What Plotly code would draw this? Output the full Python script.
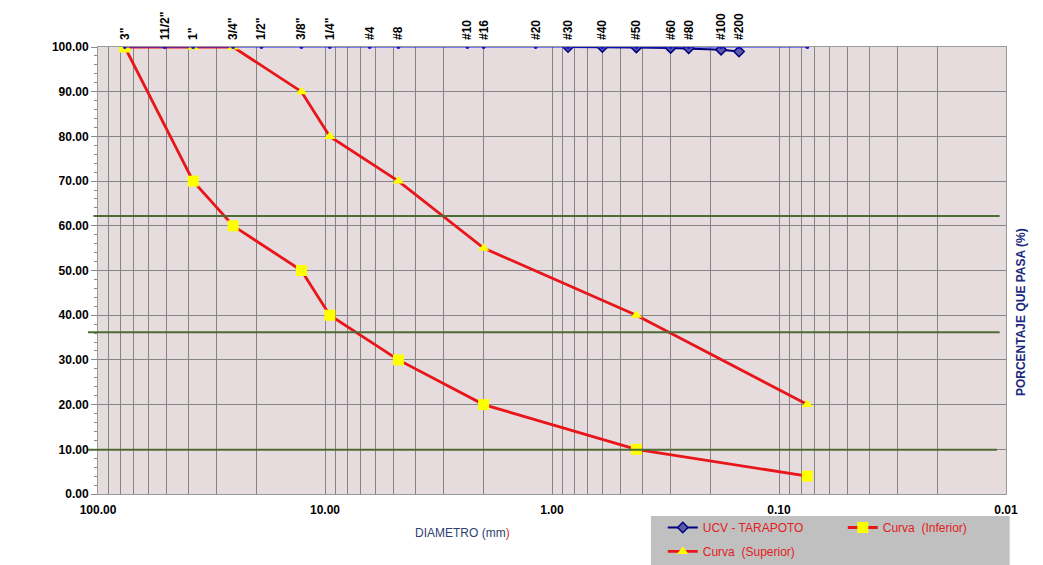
import plotly.graph_objects as go

# ---- data ----
sieve_sizes = [76.2, 50.8, 38.1, 25.4, 19.05, 12.7, 9.525, 6.35, 4.75, 2.36, 2.0,
               1.18, 0.85, 0.6, 0.425, 0.3, 0.25, 0.18, 0.15, 0.075]
sieve_pass = [100] * 20
top_labels = ['3"', '11/2"', '1"', '3/4"', '1/2"', '3/8"', '1/4"', '#4', '#8', '#10',
              '#16', '#20', '#30', '#40', '#50', '#60', '#80', '#100', '#200']

ucv_sizes = [0.85, 0.6, 0.425, 0.3, 0.25, 0.18, 0.15]
ucv_pass = [100, 100, 99.9, 99.8, 99.7, 99.4, 99.0]

inf_sizes = [76.2, 38.1, 25.4, 12.7, 9.525, 4.75, 2.0, 0.425, 0.075]
inf_pass = [100, 70, 60, 50, 40, 30, 20, 10, 4]

sup_sizes = [76.2, 38.1, 25.4, 12.7, 9.525, 4.75, 2.0, 0.425, 0.075]
sup_pass = [100, 100, 100, 90, 80, 70, 55, 40, 20]

green_levels = [62.2, 36.2, 9.9]
green_x0 = [-0.005, -0.011, -0.011]
green_x1 = [0.993, 0.993, 0.99]

x_major = [100, 10, 1, 0.1, 0.01]
x_major_text = ['100.00', '10.00', '1.00', '0.10', '0.01']

FONT = "Liberation Sans, Arial, sans-serif"
RED = "#e8161b"
YEL = "#ffff00"
NAVY = "#000080"

# gridline tick values for log axis (1..9 per decade)
grid_vals = []
grid_text = []
for d in [0.01, 0.1, 1, 10]:
    for k in range(1, 10):
        v = round(d * k, 6)
        grid_vals.append(v)
        grid_text.append(x_major_text[x_major.index(v)] if v in x_major else "")
grid_vals.append(100)
grid_text.append('100.00')

fig = go.Figure()

fig.add_trace(go.Scatter(
    x=sieve_sizes, y=sieve_pass, xaxis="x2", mode="lines+markers",
    line=dict(color="#1a1aff", width=1),
    marker=dict(symbol="circle", size=4, color="#1010d0"),
    showlegend=False, hoverinfo="skip"))

fig.add_trace(go.Scatter(
    x=ucv_sizes, y=ucv_pass, mode="lines+markers", name="UCV - TARAPOTO",
    line=dict(color=NAVY, width=2), legend="legend",
    marker=dict(symbol="diamond", size=8, color="#5a5aa8",
                line=dict(color=NAVY, width=1.5))))

fig.add_trace(go.Scatter(
    x=inf_sizes, y=inf_pass, mode="lines+markers", name="Curva  (Inferior)",
    line=dict(color=RED, width=2.8), legend="legend",
    marker=dict(symbol="square", size=11, color=YEL)))

fig.add_trace(go.Scatter(
    x=sup_sizes, y=sup_pass, mode="lines+markers", name="Curva  (Superior)",
    line=dict(color=RED, width=2.8), legend="legend2",
    marker=dict(symbol="triangle-up", size=10, color=YEL)))

for lv, a, b in zip(green_levels, green_x0, green_x1):
    fig.add_shape(type="line", xref="paper", yref="y", x0=a, x1=b, y0=lv, y1=lv,
                  line=dict(color="#4e6b35", width=2), layer="above")

# grey legend box
fig.add_shape(type="rect", xref="paper", yref="paper", x0=0.609, x1=1.004,
              y0=-0.17, y1=-0.049, fillcolor="#c0c0c0", line=dict(width=0), layer="above")

legend_font = dict(family=FONT, size=12, color="#e02020")

fig.update_layout(
    width=1035, height=557,
    margin=dict(l=90, r=37, t=39, b=71, autoexpand=False),
    paper_bgcolor="white",
    plot_bgcolor="#e6dcdd",
    font=dict(family=FONT, color="black"),
    xaxis=dict(
        type="log", range=[2, -2],
        tickvals=grid_vals, ticktext=grid_text,
        tickfont=dict(size=12, weight="bold", color="black"),
        ticklabelstandoff=5,
        showgrid=True, gridcolor="#858585", gridwidth=1,
        ticks="", showline=True, linecolor="#9a9a9a", mirror=True,
        zeroline=False),
    xaxis2=dict(
        type="log", range=[2, -2], overlaying="x", side="top",
        tickvals=sieve_sizes[:19], ticktext=top_labels, tickangle=-90,
        tickfont=dict(size=12, weight="bold", color="black"),
        ticklabelstandoff=6,
        showgrid=False, ticks="", showline=False, zeroline=False),
    yaxis=dict(
        range=[0, 100], dtick=10, tickformat=".2f",
        tickfont=dict(size=12, weight="bold", color="black"),
        showgrid=True, gridcolor="#858585", gridwidth=1,
        ticks="outside", ticklen=6, tickcolor="#8a8a8a",
        minor=dict(dtick=2, ticks="outside", ticklen=3, tickcolor="#8a8a8a", showgrid=False),
        showline=True, linecolor="#9a9a9a", mirror=True, zeroline=False),
    legend=dict(
        orientation="h", x=0.622, y=-0.0425, xanchor="left", yanchor="top",
        bgcolor="rgba(0,0,0,0)", borderwidth=0, font=legend_font,
        entrywidth=135, entrywidthmode="pixels", itemwidth=30),
    legend2=dict(
        orientation="h", x=0.622, y=-0.096, xanchor="left", yanchor="top",
        bgcolor="rgba(0,0,0,0)", borderwidth=0, font=legend_font, itemwidth=30),
    showlegend=True,
)

fig.add_annotation(
    text="DIAMETRO (mm<span style='color:#d03020'>)</span>",
    xref="paper", yref="paper", x=0.401, y=-0.088, xanchor="center", yanchor="middle",
    showarrow=False, font=dict(family=FONT, size=12, color="#2e3f70"))

fig.add_annotation(
    text="<b>PORCENTAJE QUE PASA (%)</b>",
    xref="paper", yref="paper", x=1.0, xshift=15, y=0.407, xanchor="center", yanchor="middle",
    textangle=-90, showarrow=False, font=dict(family=FONT, size=12, color="#1a2a80"))

fig.write_html("out.html")
